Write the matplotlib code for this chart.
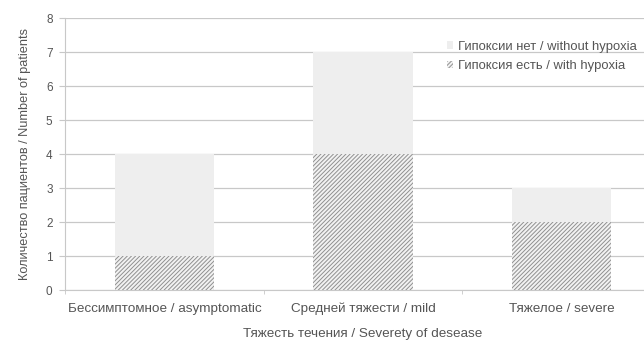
import matplotlib
matplotlib.use("Agg")
import matplotlib.pyplot as plt
import numpy as np

categories = ["Бессимптомное / asymptomatic", "Средней тяжести / mild", "Тяжелое / severe"]
with_hypoxia = [1, 4, 2]
without_hypoxia = [3, 3, 1]
series_labels = ["Гипоксии нет / without hypoxia", "Гипоксия есть / with hypoxia"]
y_ticks = [0, 1, 2, 3, 4, 5, 6, 7, 8]

plt.rcParams['font.family'] = ['Liberation Sans', 'DejaVu Sans']
plt.rcParams['hatch.color'] = '#909090'
plt.rcParams['hatch.linewidth'] = 0.7

fig = plt.figure(figsize=(6.44, 3.40), dpi=100)
ax = fig.add_axes([0.101, 0.147, 0.925, 0.800])

x = np.arange(len(categories))
b1 = ax.bar(x, with_hypoxia, width=0.5, color='#f2f2f2', hatch='////////',
            edgecolor='#909090', linewidth=0, zorder=3, label=series_labels[1])
b2 = ax.bar(x, without_hypoxia, width=0.5, bottom=with_hypoxia, color='#eeeeee',
            linewidth=0, zorder=3, label=series_labels[0])

ax.set_xlim(-0.5, len(categories) - 0.5)
ax.set_ylim(0, 8)
ax.set_yticks(y_ticks)
ax.set_xticks(x)
ax.set_xticklabels(categories)
ax.set_xticks(np.arange(len(categories) + 1) - 0.5, minor=True)
ax.tick_params(axis='x', which='major', length=0, pad=9, labelsize=9.7, colors='#555555')
ax.tick_params(axis='x', which='minor', length=3, color='#c8c8c8')
ax.tick_params(axis='y', length=4, color='#c8c8c8', labelsize=8.5, colors='#555555', pad=5)
ax.yaxis.grid(True, color='#c8c8c8', linewidth=0.9, zorder=0)
ax.set_axisbelow(True)
for s in ['top', 'right']:
    ax.spines[s].set_visible(False)
ax.spines['left'].set_color('#c8c8c8')
ax.spines['bottom'].set_color('#c8c8c8')

ax.set_ylabel("Количество пациентов / Number of patients", fontsize=9.2, color='#555555', labelpad=11)
ax.set_xlabel("Тяжесть течения / Severety of desease", fontsize=9.7, color='#555555', labelpad=9)

leg = ax.legend(handles=[b2, b1], labels=series_labels, loc='upper left',
                bbox_to_anchor=(0.622, 0.96), frameon=False, fontsize=9.4,
                handlelength=0.45, handleheight=0.45, handletextpad=0.35,
                labelspacing=0.6, labelcolor='#555555')

fig.savefig("out.png", dpi=100, facecolor='white')
